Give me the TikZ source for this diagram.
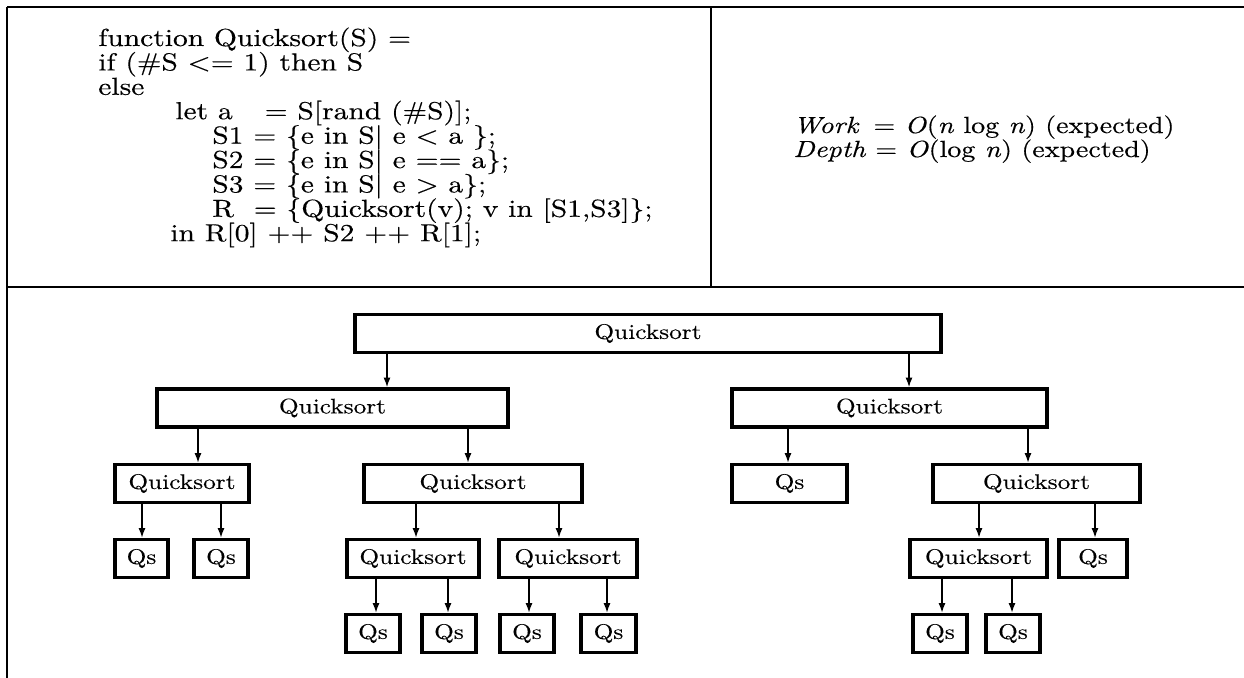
\documentclass[tikz,border=0pt]{standalone}
\usepackage{fontspec}
\setmainfont{lmroman10-regular.otf}[ItalicFont=lmroman10-italic.otf,
  BoldFont=lmroman10-bold.otf, FakeStretch=1.2, FakeBold=0.35]
\usetikzlibrary{arrows.meta}

\begin{document}
\begin{tikzpicture}[x=0.02cm, y=-0.02cm,
    frame/.style={line width=1.1pt},
    qs/.style={draw, line width=2pt, inner sep=0pt, minimum height=0.76cm,
               font=\fontsize{12}{13}\selectfont},
    code/.style={anchor=base west, inner sep=0pt,
                 font=\fontsize{14}{15}\selectfont},
    cost/.style={anchor=base west, inner sep=0pt,
                 font=\fontsize{13.3}{15}\selectfont},
    arr/.style={-{Latex[length=5.5pt, width=4pt]}, line width=0.8pt}
  ]
    \useasboundingbox (0,0) rectangle (1244,678);
    % panels
    \draw[frame] (7,7) -- (1244,7);
    \draw[frame] (7,7) -- (7,678);
    \draw[frame] (7,287) -- (1244,287);
    \draw[frame] (711,7) -- (711,287);

    % program text
    \node[code] (c1) at (98,46) {function Quicksort(S) =};
    \node[code] (c2) at (98,70.4) {if (\#S <= 1) then S};
    \node[code] (c3) at (98,94.8) {else};
    \node[code] (c4) at (175,119.2) {let a\hspace{1.3em}= S[rand (\#S)];};
    \node[code] (c5) at (212,143.6) {S1 = \{e in S| e < a \};};
    \node[code] (c6) at (212,168) {S2 = \{e in S| e == a\};};
    \node[code] (c7) at (212,192.4) {S3 = \{e in S| e > a\};};
    \node[code] (c8) at (212,216.8) {R\ \ = \{Quicksort(v); v in [S1,S3]\};};
    \node[code] (c9) at (170,241.2) {in R[0] ++ S2 ++ R[1];};

    % cost
    \node[cost] (work) at (793,133) {\textit{Work}\hspace{0.2em} = \textit{O}(\textit{n} log \textit{n}) (expected)};
    \node[cost] (depth) at (793,157) {\textit{Depth} = \textit{O}(log \textit{n}) (expected)};

    % call tree
    \node[qs, minimum width=11.72cm] (root) at (648,333.5) {Quicksort};

    \node[qs, minimum width=7.02cm] (lq) at (332.5,408) {Quicksort};
    \node[qs, minimum width=6.3cm] (rq) at (889.5,408) {Quicksort};

    \node[qs, minimum width=2.68cm] (llq) at (182,483.5) {Quicksort};
    \node[qs, minimum width=4.36cm] (lrq) at (473,483.5) {Quicksort};
    \node[qs, minimum width=2.3cm] (rls) at (789.5,483.5) {Qs};
    \node[qs, minimum width=4.14cm] (rrq) at (1036.5,483.5) {Quicksort};

    \node[qs, minimum width=1.06cm] (llls) at (141.5,558.5) {Qs};
    \node[qs, minimum width=1.08cm] (llrs) at (221,558.5) {Qs};
    \node[qs, minimum width=2.64cm] (lrlq) at (413,558.5) {Quicksort};
    \node[qs, minimum width=2.76cm] (lrrq) at (568,558.5) {Quicksort};
    \node[qs, minimum width=2.74cm] (rrlq) at (978.5,558.5) {Quicksort};
    \node[qs, minimum width=1.36cm] (rrrs) at (1093,558.5) {Qs};

    \node[qs, minimum width=1.08cm] (lrlls) at (373,633.5) {Qs};
    \node[qs, minimum width=1.08cm] (lrlrs) at (449,633.5) {Qs};
    \node[qs, minimum width=1.08cm] (lrrls) at (527,633.5) {Qs};
    \node[qs, minimum width=1.1cm] (lrrrs) at (608.5,633.5) {Qs};
    \node[qs, minimum width=1.08cm] (rrlls) at (940,633.5) {Qs};
    \node[qs, minimum width=1.08cm] (rrlrs) at (1013,633.5) {Qs};

    \draw[arr] (root.south -| 387,0) -- (lq.north -| 387,0);
    \draw[arr] (root.south -| 909,0) -- (rq.north -| 909,0);
    \draw[arr] (lq.south -| 198,0) -- (llq.north -| 198,0);
    \draw[arr] (lq.south -| 468,0) -- (lrq.north -| 468,0);
    \draw[arr] (rq.south -| 788,0) -- (rls.north -| 788,0);
    \draw[arr] (rq.south -| 1028,0) -- (rrq.north -| 1028,0);
    \draw[arr] (llq.south -| 142,0) -- (llls.north -| 142,0);
    \draw[arr] (llq.south -| 221,0) -- (llrs.north -| 221,0);
    \draw[arr] (lrq.south -| 416,0) -- (lrlq.north -| 416,0);
    \draw[arr] (lrq.south -| 559,0) -- (lrrq.north -| 559,0);
    \draw[arr] (rrq.south -| 979,0) -- (rrlq.north -| 979,0);
    \draw[arr] (rrq.south -| 1095,0) -- (rrrs.north -| 1095,0);
    \draw[arr] (lrlq.south -| 376,0) -- (lrlls.north -| 376,0);
    \draw[arr] (lrlq.south -| 448,0) -- (lrlrs.north -| 448,0);
    \draw[arr] (lrrq.south -| 529,0) -- (lrrls.north -| 529,0);
    \draw[arr] (lrrq.south -| 607,0) -- (lrrrs.north -| 607,0);
    \draw[arr] (rrlq.south -| 942,0) -- (rrlls.north -| 942,0);
    \draw[arr] (rrlq.south -| 1012,0) -- (rrlrs.north -| 1012,0);
  \end{tikzpicture}
\end{document}
